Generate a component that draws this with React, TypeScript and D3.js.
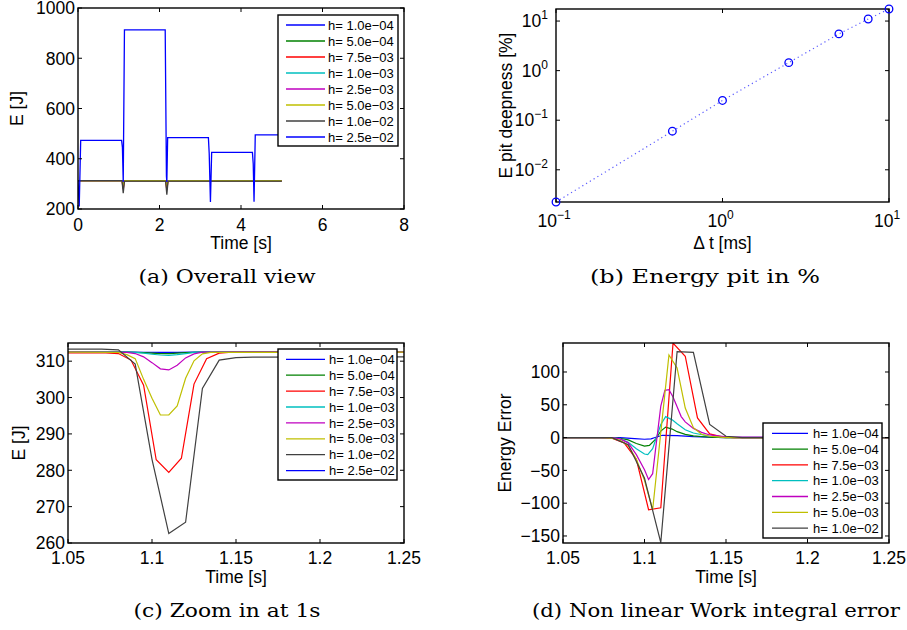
import React from "react";
import * as d3 from "d3";

// ---------- shared legend data ----------
const hLabels = ["h= 1.0e−04", "h= 5.0e−04", "h= 7.5e−03", "h= 1.0e−03", "h= 2.5e−03", "h= 5.0e−03", "h= 1.0e−02", "h= 2.5e−02"];
const lineColors = ["#0000ff", "#008000", "#ff0000", "#00bfbf", "#bf00bf", "#bfbf00", "#404040", "#0000ff"];

// ---------- (a) overall view ----------
const overallXTicks = [0, 2, 4, 6, 8];
const overallYTicks = [200, 400, 600, 800, 1000];
const overallTimeSmallH = [0, 1.08, 1.11, 1.14, 2.15, 2.18, 2.21, 5];
const overallEnergySmallH = [
  [312.5, 312.5, 312.4, 312.5, 312.5, 312.4, 312.5, 312.5],
  [312.5, 312.5, 312.1, 312.5, 312.5, 312.1, 312.5, 312.5],
  [312.5, 312.5, 279.4, 312.5, 312.5, 277.0, 312.5, 312.5],
  [312.5, 312.5, 311.7, 312.5, 312.5, 311.6, 312.5, 312.5],
  [312.5, 312.5, 307.6, 312.5, 312.5, 307.2, 312.5, 312.5],
  [312.5, 312.5, 295.2, 312.5, 312.5, 294.0, 312.5, 312.5],
  [313.3, 313.1, 262.6, 311.0, 311.2, 257.0, 311.2, 311.2],
];
const overallTimeLargeH = [0, 0.03, 0.066, 1.07, 1.09, 1.11, 1.14, 2.14, 2.17, 2.18, 2.2, 3.2, 3.22, 3.25, 3.28, 4.28, 4.3, 4.32, 4.35, 5];
const overallEnergyLargeH = [312, 210, 473, 473, 445, 308, 913, 913, 330, 308, 484, 484, 420, 228, 425, 425, 380, 229, 495, 495];

// ---------- (b) energy pit ----------
const dtMs = [0.1, 0.5, 1, 2.5, 5, 7.5, 10];
const pitPct = [0.00224, 0.06, 0.25, 1.45, 5.5, 11, 17.5];
const pitXTickExp = [-1, 0, 1];
const pitYTickExp = [-2, -1, 0, 1];

// ---------- (c) zoom ----------
const zoomXTicks = [1.05, 1.1, 1.15, 1.2, 1.25];
const zoomXTickLabels = ["1.05", "1.1", "1.15", "1.2", "1.25"];
const zoomYTicks = [260, 270, 280, 290, 300, 310];
const zoomTimes = [
  [1.05, 1.085, 1.095, 1.105, 1.11, 1.115, 1.125, 1.25],
  [1.05, 1.085, 1.095, 1.1, 1.105, 1.11, 1.115, 1.12, 1.13, 1.25],
  [1.05, 1.0725, 1.08, 1.0875, 1.095, 1.1025, 1.11, 1.1175, 1.125, 1.1325, 1.14, 1.1475, 1.25],
  [1.05, 1.085, 1.09, 1.095, 1.1, 1.105, 1.11, 1.115, 1.12, 1.125, 1.13, 1.25],
  [1.05, 1.085, 1.09, 1.095, 1.1, 1.105, 1.11, 1.115, 1.12, 1.125, 1.13, 1.25],
  [1.05, 1.08, 1.085, 1.09, 1.095, 1.1, 1.105, 1.11, 1.115, 1.12, 1.125, 1.13, 1.135, 1.25],
  [1.05, 1.06, 1.07, 1.08, 1.09, 1.1, 1.11, 1.12, 1.13, 1.14, 1.15, 1.16, 1.25],
];
const zoomEnergy = [
  [312.5, 312.5, 312.45, 312.4, 312.4, 312.42, 312.5, 312.5],
  [312.5, 312.5, 312.35, 312.2, 312.1, 312.1, 312.2, 312.35, 312.5, 312.5],
  [312.3, 312.3, 312.1, 310.3, 303.4, 282.9, 279.4, 283.3, 303.7, 310.7, 312.2, 312.5, 312.5],
  [312.5, 312.5, 312.4, 312.2, 311.9, 311.7, 311.6, 311.8, 312.1, 312.4, 312.5, 312.5],
  [312.5, 312.4, 312.1, 311.2, 309.6, 307.9, 307.6, 308.9, 310.9, 312.0, 312.5, 312.5],
  [312.5, 312.4, 311.8, 310.7, 305.0, 299.8, 295.2, 295.2, 297.7, 305.3, 310.1, 312.0, 312.4, 312.5],
  [313.3, 313.3, 313.3, 313.1, 309.2, 283.0, 262.6, 265.7, 302.5, 310.3, 311.0, 311.1, 311.2],
];

// ---------- (d) work integral error ----------
const errYTicks = [-150, -100, -50, 0, 50, 100];
const errTimes = [
  [1.05, 1.085, 1.094, 1.1, 1.104, 1.107, 1.111, 1.12, 1.13, 1.15, 1.25],
  [1.05, 1.08, 1.085, 1.09, 1.095, 1.1, 1.103, 1.107, 1.11, 1.113, 1.117, 1.12, 1.125, 1.13, 1.14, 1.15, 1.25],
  [1.05, 1.0725, 1.08, 1.0875, 1.095, 1.1025, 1.11, 1.1175, 1.125, 1.1325, 1.14, 1.1475, 1.155, 1.25],
  [1.05, 1.08, 1.085, 1.09, 1.095, 1.1, 1.102, 1.105, 1.108, 1.11, 1.113, 1.117, 1.12, 1.125, 1.13, 1.14, 1.15, 1.25],
  [1.05, 1.08, 1.085, 1.09, 1.095, 1.1, 1.1025, 1.105, 1.1075, 1.11, 1.1125, 1.115, 1.1175, 1.12, 1.1225, 1.125, 1.13, 1.135, 1.14, 1.15, 1.25],
  [1.05, 1.075, 1.08, 1.085, 1.09, 1.095, 1.1, 1.105, 1.11, 1.115, 1.12, 1.125, 1.13, 1.135, 1.14, 1.145, 1.15, 1.25],
  [1.05, 1.07, 1.08, 1.09, 1.1, 1.11, 1.12, 1.13, 1.14, 1.15, 1.16, 1.25],
];
const errValues = [
  [0, 0, -1.5, -2.5, -2, 0.5, 3.5, 3, 1.5, 0, 0],
  [0, 0, -1, -3.5, -9, -13, -12, -2, 10, 16, 13, 9, 5, 2.5, 0.5, 0, 0],
  [0, 0, -1, -8, -33, -110, -107, 144, 124, 30, 5.6, 1, 0, 0],
  [0, 0, -2, -7, -17, -25, -26, -17, 5, 20, 32, 27, 21, 12, 7, 2, 0.5, 0],
  [0, 0, -2, -8, -26, -49, -64, -55, -3, 48, 72, 73, 62, 47, 32, 24, 14, 8, 4, 1, 0],
  [0, 0, -1, -4, -12, -33, -65, -110, 8, 126, 106, 45, 15, 5, 2, 1, 0, 0],
  [0, 0, 0, -11, -62, -160, 131, 130, 20, 2, 0, 0],
];

// ---------- layout ----------
const SANS = "'Liberation Sans', Arial, Helvetica, sans-serif";
const SERIF = "'DejaVu Serif', 'Liberation Serif', serif";
const FS = 17.5;
const TICK = 4;

type Box = { l: number; r: number; t: number; b: number };
const boxA: Box = { l: 78, r: 404, t: 8, b: 209 };
const boxB: Box = { l: 556, r: 889, t: 9, b: 202 };
const boxC: Box = { l: 68, r: 404, t: 343, b: 543 };
const boxD: Box = { l: 563, r: 889, t: 343, b: 543 };

const xA = d3.scaleLinear().domain([0, 8]).range([boxA.l, boxA.r]);
const yA = d3.scaleLinear().domain([200, 1000]).range([boxA.b, boxA.t]);
const xB = d3.scaleLog().domain([0.1, 10]).range([boxB.l, boxB.r]);
const yB = d3.scaleLog().domain([0.00224, 17.5]).range([boxB.b, boxB.t]);
const xC = d3.scaleLinear().domain([1.05, 1.25]).range([boxC.l, boxC.r]);
const yC = d3.scaleLinear().domain([260, 315]).range([boxC.b, boxC.t]);
const xD = d3.scaleLinear().domain([1.05, 1.25]).range([boxD.l, boxD.r]);
const yD = d3.scaleLinear().domain([-160.7, 144.2]).range([boxD.b, boxD.t]);

function pathOf(xs: number[], ys: number[], sx: any, sy: any) {
  const pts: [number, number][] = xs.map((x, i) => [x, ys[i]]);
  return d3.line<[number, number]>().x((d) => sx(d[0])).y((d) => sy(d[1]))(pts) || "";
}

function Frame({ box, xPos, yPos }: { box: Box; xPos: number[]; yPos: number[] }) {
  return (
    <g stroke="#000" strokeWidth={1}>
      {xPos.map((x, i) => (
        <g key={"x" + i}>
          <line x1={x} x2={x} y1={box.b} y2={box.b - TICK} />
          <line x1={x} x2={x} y1={box.t} y2={box.t + TICK} />
        </g>
      ))}
      {yPos.map((y, i) => (
        <g key={"y" + i}>
          <line x1={box.l} x2={box.l + TICK} y1={y} y2={y} />
          <line x1={box.r} x2={box.r - TICK} y1={y} y2={y} />
        </g>
      ))}
      <rect x={box.l} y={box.t} width={box.r - box.l} height={box.b - box.t} fill="none" strokeWidth={1.4} />
    </g>
  );
}

function Legend({ x0, x1, y0, y1, row0, step, lx0, lx1, tx, n }: any) {
  return (
    <g>
      <rect x={x0} y={y0} width={x1 - x0} height={y1 - y0} fill="#fff" stroke="#000" strokeWidth={1.4} />
      {hLabels.slice(0, n).map((lab, i) => (
        <g key={i}>
          <line x1={lx0} x2={lx1} y1={row0 + i * step} y2={row0 + i * step} stroke={lineColors[i]} strokeWidth={1.3} />
          <text x={tx} y={row0 + i * step + 4.6} fontFamily={SANS} fontSize={13} fill="#000">{lab}</text>
        </g>
      ))}
    </g>
  );
}

function Caption({ x, y, w, children }: any) {
  return (
    <text x={x} y={y} textAnchor="middle" fontFamily={SERIF} fontSize={19} textLength={w} lengthAdjust="spacingAndGlyphs" fill="#000">
      {children}
    </text>
  );
}

function YLabel({ x, y, children }: any) {
  return (
    <text transform={`translate(${x},${y}) rotate(-90)`} textAnchor="middle" fontFamily={SANS} fontSize={FS} fill="#000">
      {children}
    </text>
  );
}

export default function App() {
  const midA = (boxA.t + boxA.b) / 2;
  const midB = (boxB.t + boxB.b) / 2;
  const midC = (boxC.t + boxC.b) / 2;
  return (
    <svg width={907} height={630} style={{ position: "absolute", left: 0, top: 0 }} xmlns="http://www.w3.org/2000/svg">
      <rect x={0} y={0} width={907} height={630} fill="#fff" />
      <defs>
        {[boxA, boxB, boxC, boxD].map((b, i) => (
          <clipPath id={"clip" + i} key={i}>
            <rect x={b.l} y={b.t} width={b.r - b.l} height={b.b - b.t} />
          </clipPath>
        ))}
      </defs>

      {/* (a) */}
      <g clipPath="url(#clip0)" fill="none" strokeWidth={1.3}>
        {overallEnergySmallH.map((ys, i) => (
          <path key={i} d={pathOf(overallTimeSmallH, ys, xA, yA)} stroke={lineColors[i]} />
        ))}
        <path d={pathOf(overallTimeLargeH, overallEnergyLargeH, xA, yA)} stroke={lineColors[7]} />
      </g>
      <Frame box={boxA} xPos={overallXTicks.map(xA)} yPos={overallYTicks.map(yA)} />
      <g fontFamily={SANS} fontSize={FS} fill="#000">
        {overallXTicks.map((v) => (
          <text key={v} x={xA(v)} y={boxA.b + 22} textAnchor="middle">{v}</text>
        ))}
        {overallYTicks.map((v) => (
          <text key={v} x={boxA.l - 3} y={yA(v)} dy="0.36em" textAnchor="end">{v}</text>
        ))}
        <text x={(boxA.l + boxA.r) / 2} y={boxA.b + 40} textAnchor="middle">Time [s]</text>
      </g>
      <YLabel x={23} y={midA}>E [J]</YLabel>
      <Legend x0={278} x1={398} y0={15} y1={146} row0={25} step={16} lx0={286} lx1={325} tx={328} n={8} />
      <Caption x={227} y={283} w={177}>(a) Overall view</Caption>

      {/* (b) */}
      <path d={pathOf(dtMs, pitPct, xB, yB)} fill="none" stroke="#5a5aff" strokeWidth={1.2} strokeDasharray="1.2,3.2" />
      <Frame box={boxB} xPos={pitXTickExp.map((e) => xB(Math.pow(10, e)))} yPos={pitYTickExp.map((e) => yB(Math.pow(10, e)))} />
      {dtMs.map((d, i) => (
        <circle key={i} cx={xB(d)} cy={yB(pitPct[i])} r={3.8} fill="none" stroke="#0000ff" strokeWidth={1.3} />
      ))}
      <g fontFamily={SANS} fontSize={FS} fill="#000">
        {pitXTickExp.map((e) => (
          <text key={e} x={xB(Math.pow(10, e)) - 2} y={boxB.b + 25} textAnchor="middle">
            <tspan>10</tspan>
            <tspan dy={-8} fontSize={12}>{d3.format("")(e)}</tspan>
          </text>
        ))}
        {pitYTickExp.map((e) => (
          <text key={e} x={boxB.l - 8} y={yB(Math.pow(10, e)) + 6} textAnchor="end">
            <tspan>10</tspan>
            <tspan dy={-8} fontSize={12}>{d3.format("")(e)}</tspan>
          </text>
        ))}
        <text x={(boxB.l + boxB.r) / 2} y={boxB.b + 47} textAnchor="middle">Δ t [ms]</text>
      </g>
      <YLabel x={512} y={midB}>E pit deepness [%]</YLabel>
      <Caption x={705} y={283} w={230}>(b) Energy pit in %</Caption>

      {/* (c) */}
      <g clipPath="url(#clip2)" fill="none" strokeWidth={1.2}>
        {zoomEnergy.map((ys, i) => (
          <path key={i} d={pathOf(zoomTimes[i], ys, xC, yC)} stroke={lineColors[i]} />
        ))}
      </g>
      <Frame box={boxC} xPos={zoomXTicks.map(xC)} yPos={zoomYTicks.map(yC)} />
      <g fontFamily={SANS} fontSize={FS} fill="#000">
        {zoomXTicks.map((v, i) => (
          <text key={v} x={xC(v)} y={boxC.b + 21} textAnchor="middle">{zoomXTickLabels[i]}</text>
        ))}
        {zoomYTicks.map((v) => (
          <text key={v} x={boxC.l - 3} y={yC(v)} dy="0.36em" textAnchor="end">{v}</text>
        ))}
        <text x={(boxC.l + boxC.r) / 2} y={boxC.b + 40} textAnchor="middle">Time [s]</text>
      </g>
      <YLabel x={25} y={midC}>E [J]</YLabel>
      <Legend x0={278} x1={397} y0={349} y1={480} row0={359.3} step={15.9} lx0={286} lx1={325} tx={329} n={8} />
      <Caption x={227} y={617} w={187}>(c) Zoom in at 1s</Caption>

      {/* (d) */}
      <g clipPath="url(#clip3)" fill="none" strokeWidth={1.2}>
        {errValues.map((ys, i) => (
          <path key={i} d={pathOf(errTimes[i], ys, xD, yD)} stroke={lineColors[i]} />
        ))}
      </g>
      <Frame box={boxD} xPos={zoomXTicks.map(xD)} yPos={errYTicks.map(yD)} />
      <g fontFamily={SANS} fontSize={FS} fill="#000">
        {zoomXTicks.map((v, i) => (
          <text key={v} x={xD(v)} y={boxD.b + 21} textAnchor="middle">{zoomXTickLabels[i]}</text>
        ))}
        {errYTicks.map((v) => (
          <text key={v} x={boxD.l - 3} y={yD(v)} dy="0.36em" textAnchor="end">{d3.format("")(v)}</text>
        ))}
        <text x={(boxD.l + boxD.r) / 2} y={boxD.b + 40} textAnchor="middle">Time [s]</text>
      </g>
      <YLabel x={511} y={midC}>Energy Error</YLabel>
      <Legend x0={763} x1={882} y0={423} y1={538} row0={433.3} step={15.8} lx0={772} lx1={808} tx={813} n={7} />
      <Caption x={716} y={617} w={368}>(d) Non linear Work integral error</Caption>
    </svg>
  );
}
